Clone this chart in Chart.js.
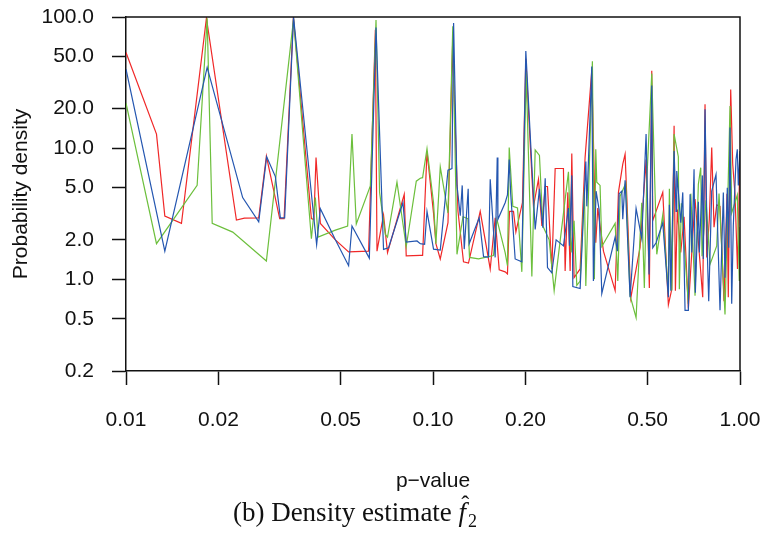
<!DOCTYPE html>
<html>
<head>
<meta charset="utf-8">
<script src="https://cdn.jsdelivr.net/npm/chart.js@4.4.1/dist/chart.umd.min.js"></script>
<style>
  html, body { margin: 0; padding: 0; background: #fff; }
  #wrap { width: 764px; height: 536px; }
</style>
</head>
<body>
<div id="wrap"><canvas id="chart" width="764" height="536"></canvas></div>
<script>
// ================== Data ==================
const xTickValues = [0.01, 0.02, 0.05, 0.1, 0.2, 0.5, 1];
const xTickLabels = ['0.01', '0.02', '0.05', '0.10', '0.20', '0.50', '1.00'];
const yTickValues = [0.2, 0.5, 1, 2, 5, 10, 20, 50, 100];
const yTickLabels = ['0.2', '0.5', '1.0', '2.0', '5.0', '10.0', '20.0', '50.0', '100.0'];

const redP = [0.0100,0.01257,0.01338,0.01516,0.01828,0.02289,0.0243,0.02706,0.02866,0.03167,0.03273,0.0351,0.04017,0.04092,0.04159,0.04296,0.04808,0.0531,0.0617,0.0649,0.0657,0.0690,0.0711,0.0806,0.0818,0.0909,0.0925,0.0956,0.1004,0.1022,0.1056,0.1119,0.1158,0.1206,0.1257,0.1305,0.1425,0.1536,0.1594,0.1643,0.1718,0.1748,0.1775,0.1829,0.1862,0.1956,0.2006,0.2125,0.2206,0.2263,0.2320,0.2360,0.2438,0.2500,0.2660,0.2694,0.2749,0.2797,0.2832,0.2881,0.3015,0.3129,0.3290,0.3390,0.3441,0.3591,0.3920,0.4018,0.4151,0.4224,0.4408,0.4726,0.4944,0.5067,0.5159,0.5198,0.5603,0.5844,0.5995,0.6100,0.6160,0.6250,0.6412,0.6574,0.6789,0.7137,0.7561,0.7693,0.7791,0.7945,0.8089,0.8230,0.8398,0.8608,0.8869,0.9072,0.9160,0.9326,0.9467,0.9632,0.9813,1.0];
const redD = [53.7,12.8,3.04,2.67,98,2.83,2.93,2.94,8.7,2.9,2.9,100,2.9,2.85,8.5,2.67,2.0,1.62,1.64,80,1.64,3.1,1.6,4.45,1.51,1.52,1.52,9.4,3.2,1.87,1.43,2.7,60,3.3,1.36,1.33,3.3,1.2,2.95,1.18,1.14,1.1,3.3,3.3,2.3,3.85,48,3.6,5.8,2.55,5.1,5.1,1.2,7.0,7.0,1.16,4.6,1.16,9.1,1.03,1.2,8.5,39,1.9,3.5,1.64,0.82,4.6,7.55,9.0,0.72,1.75,8.2,0.86,39,2.8,4.6,0.64,0.84,14.8,0.82,3.4,1.6,3.0,0.6,4.1,0.73,21.6,1.47,2.87,10.1,2.5,3.7,3.6,0.68,4.5,0.73,28,7.6,4.45,1.2,9.0];

const blueP = [0.0100,0.01338,0.01838,0.02399,0.02706,0.02872,0.03066,0.03183,0.03287,0.03513,0.04085,0.04178,0.04296,0.04808,0.0531,0.05446,0.06203,0.06522,0.0690,0.07165,0.07983,0.0818,0.0887,0.0909,0.0939,0.0956,0.1004,0.1056,0.1119,0.1153,0.1167,0.1197,0.1227,0.1245,0.1264,0.1302,0.1312,0.1414,0.1461,0.1517,0.1536,0.1594,0.1619,0.1627,0.1718,0.1748,0.1771,0.1791,0.1852,0.1947,0.2006,0.2152,0.2222,0.2280,0.2320,0.2360,0.2438,0.2518,0.2660,0.2762,0.2783,0.2832,0.2854,0.3015,0.3146,0.3170,0.3290,0.3330,0.3398,0.3476,0.3547,0.3920,0.3988,0.4039,0.4121,0.4151,0.4224,0.4385,0.4587,0.4786,0.4944,0.5056,0.5159,0.5198,0.5329,0.5603,0.5844,0.5888,0.5951,0.6100,0.6191,0.6223,0.6412,0.6510,0.6622,0.6789,0.6877,0.6964,0.7085,0.7154,0.7317,0.7372,0.7539,0.7596,0.7693,0.7826,0.7908,0.8089,0.8354,0.8608,0.8825,0.8937,0.9092,0.9187,0.9279,0.9397,0.9510,0.9705,0.9800,0.9874,1.0];
const blueD = [40,1.64,41.3,4.2,2.74,8.6,6.07,2.94,2.94,100,3.05,1.84,3.45,2.0,1.27,2.55,1.45,83,1.69,1.74,3.84,1.92,1.96,1.87,1.85,3.3,1.7,1.67,6.8,7.0,90,5.2,3.05,5.2,1.7,4.9,1.87,2.95,1.49,1.48,5.8,1.47,8.5,2.87,3.84,4.4,8.2,4.5,1.43,1.36,55,2.4,4.9,2.47,5.9,1.23,1.12,2.0,1.8,3.5,1.8,6.2,0.88,0.85,7.9,3.6,42,0.97,4.7,3.4,0.78,2.1,1.64,4.5,4.7,2.87,5.7,0.73,3.47,2.05,12.8,1.09,30,1.74,1.9,2.7,0.73,3.7,0.82,9.5,3.3,6.7,2.7,4.6,0.58,0.58,4.45,1.6,6.9,0.79,3.9,1.6,6.2,1.43,19.8,1.6,0.68,4.7,6.3,0.58,4.6,1.03,5.0,1.74,14.4,0.65,2.55,8.2,9.8,5.2,9.5];

const greenP = [0.0100,0.01257,0.01705,0.01838,0.01909,0.02227,0.02866,0.03513,0.04017,0.04138,0.04223,0.04808,0.05272,0.05446,0.05625,0.06250,0.06522,0.06699,0.06993,0.0711,0.07632,0.0818,0.08822,0.0909,0.0925,0.0956,0.1004,0.1022,0.1056,0.1119,0.1160,0.1197,0.1252,0.1299,0.1315,0.1407,0.1574,0.1615,0.1718,0.1748,0.1771,0.1820,0.1885,0.1947,0.2011,0.2099,0.2152,0.2222,0.2280,0.2390,0.2481,0.2762,0.2818,0.2881,0.2940,0.3015,0.3113,0.3146,0.3305,0.3355,0.3390,0.3416,0.3501,0.3547,0.3920,0.3999,0.4069,0.4246,0.4385,0.4587,0.4786,0.4880,0.4969,0.5159,0.5357,0.5603,0.5844,0.5888,0.5995,0.6100,0.6297,0.6345,0.6442,0.6789,0.6914,0.7137,0.7317,0.7449,0.7521,0.7750,0.7986,0.8398,0.8544,0.8937,0.9279,0.9397,0.9800,0.9947,1.0];
const greenD = [22,1.87,5.2,98,2.67,2.29,1.38,96,2.04,4.2,2.1,2.37,2.55,12.8,2.64,5.15,95,4.6,2.2,2.1,5.5,1.78,5.6,5.9,5.96,9.9,3.84,1.87,7.2,3.2,85,1.55,3.0,2.9,1.47,1.43,1.52,2.87,1.6,1.27,10.1,3.6,3.5,1.14,38,1.05,9.7,8.8,2.55,2.0,0.82,6.6,1.6,2.8,0.9,0.97,4.9,0.89,46,1.0,9.8,5.5,5.2,1.78,2.67,0.97,4.3,5.4,0.75,0.51,3.84,0.86,5.6,37,1.55,3.1,0.79,4.9,0.82,12.8,8.6,0.84,3.8,0.65,4.5,0.75,5.3,7.1,1.5,4.0,1.3,1.8,4.5,0.54,21,3.2,4.4,0.97,2.5];

// ================== Style ==================
const SANS = '"Liberation Sans", Arial, Helvetica, sans-serif';
const SERIF = '"Liberation Serif", "Times New Roman", serif';
const INK = '#111';

const pts = (xs, ys) => xs.map((x, i) => ({ x, y: ys[i] }));
const line = (label, xs, ys, color) => ({
  label, data: pts(xs, ys), borderColor: color, backgroundColor: color,
  borderWidth: 1.2, pointRadius: 0, tension: 0, showLine: true
});
// no automatic label overflow padding: the plot box is fixed
const noPad = s => { s.paddingLeft = 0; s.paddingRight = 0; s.paddingTop = 0; s.paddingBottom = 0; };

// ================== Extra text & box ==================
const frame = {
  id: 'frame',
  afterDraw(chart){
    const { ctx, chartArea: a } = chart;
    ctx.save();
    ctx.strokeStyle = INK;
    ctx.lineWidth = 1.5;
    ctx.beginPath();
    ctx.moveTo(a.left, a.top); ctx.lineTo(a.right, a.top); ctx.lineTo(a.right, a.bottom);
    ctx.stroke();

    ctx.fillStyle = INK;
    ctx.font = '21px ' + SANS;
    ctx.textAlign = 'center';
    ctx.textBaseline = 'middle';
    ctx.fillText('p\u2212value', (a.left + a.right) / 2, 481);

    ctx.save();
    ctx.translate(21, 194);
    ctx.rotate(-Math.PI / 2);
    ctx.fillText('Probability density', 0, 0);
    ctx.restore();

    // caption: (b) Density estimate f-hat_2
    const base = 521;
    const main = '(b) Density estimate ';
    ctx.textAlign = 'left';
    ctx.textBaseline = 'alphabetic';
    ctx.font = '27px ' + SERIF;
    const w1 = ctx.measureText(main).width;
    ctx.font = 'italic 27px ' + SERIF;
    const wf = ctx.measureText('f').width;
    ctx.font = '18px ' + SERIF;
    const w2 = ctx.measureText('2').width;
    const total = w1 + wf + 2 + w2;
    let x = 355 - total / 2;
    ctx.font = '27px ' + SERIF;
    ctx.fillText(main, x, base);
    x += w1;
    ctx.font = 'italic 27px ' + SERIF;
    ctx.fillText('f', x, base);
    ctx.font = '24px ' + SERIF;
    ctx.textAlign = 'center';
    ctx.fillText('\u02C6', x + wf / 2 + 3, base - 9);
    ctx.textAlign = 'left';
    ctx.font = '18px ' + SERIF;
    ctx.fillText('2', x + wf + 2, base + 6);
    ctx.restore();
  }
};

// ================== Chart ==================
new Chart(document.getElementById('chart'), {
  type: 'scatter',
  data: {
    datasets: [
      line('f2 (blue)', blueP, blueD, '#2456b0'),
      line('f2 (green)', greenP, greenD, '#6cbf3c'),
      line('f2 (red)', redP, redD, '#f02828')
    ]
  },
  options: {
    responsive: false,
    animation: false,
    devicePixelRatio: 1,
    layout: { padding: { left: 0, right: 24, top: 17, bottom: 0 } },
    plugins: { legend: { display: false }, tooltip: { enabled: false } },
    scales: {
      x: {
        type: 'logarithmic', min: 0.01, max: 1,
        afterBuildTicks: s => { s.ticks = xTickValues.map(v => ({ value: v })); },
        afterFit: s => { s.height = 165; noPad(s); },
        grid: { drawOnChartArea: false, drawTicks: true, tickLength: 14, tickColor: INK, tickWidth: 1.5 },
        border: { display: true, color: INK, width: 1.5 },
        ticks: {
          autoSkip: false, maxRotation: 0, padding: 23, color: INK,
          font: { family: SANS, size: 21, lineHeight: 1.2 },
          callback: (v, i) => xTickLabels[i]
        }
      },
      y: {
        type: 'logarithmic', min: 0.2, max: 100,
        afterBuildTicks: s => { s.ticks = yTickValues.map(v => ({ value: v })); },
        afterFit: s => { s.width = 126; noPad(s); },
        grid: { drawOnChartArea: false, drawTicks: true, tickLength: 14, tickColor: INK, tickWidth: 1.5 },
        border: { display: true, color: INK, width: 1.5 },
        ticks: {
          autoSkip: false, padding: 18, color: INK,
          font: { family: SANS, size: 21 },
          callback: (v, i) => yTickLabels[i]
        }
      }
    }
  },
  plugins: [frame]
});
</script>
</body>
</html>
